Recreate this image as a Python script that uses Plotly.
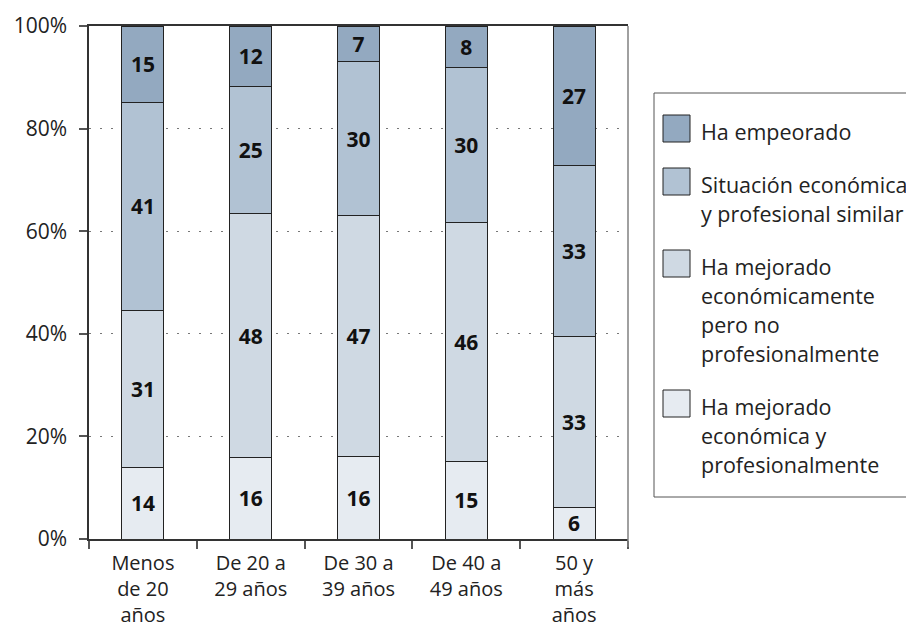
import plotly.graph_objects as go

# categories (x axis tick labels)
categorias = ["Menos<br>de 20<br>años", "De 20 a<br>29 años", "De 30 a<br>39 años",
              "De 40 a<br>49 años", "50 y<br>más<br>años"]

# series, bottom to top of each stack
serie_nombres = [
    "Ha mejorado<br>económica y<br>profesionalmente",
    "Ha mejorado<br>económicamente<br>pero no<br>profesionalmente",
    "Situación económica<br>y profesional similar",
    "Ha empeorado",
]
mejorado_ambos = [14, 16, 16, 15, 6]
mejorado_economico = [31, 48, 47, 46, 33]
similar = [41, 25, 30, 30, 33]
empeorado = [15, 12, 7, 8, 27]

valores = [mejorado_ambos, mejorado_economico, similar, empeorado]
colores = ["#e6ebf1", "#cfd9e3", "#b1c2d3", "#93a9c0"]

y_ticks = [0, 20, 40, 60, 80, 100]
y_labels = ["0%", "20%", "40%", "60%", "80%", "100%"]

FONT = "Open Sans"
TXT = "#222222"

fig = go.Figure()
for nombre, vals, col in zip(serie_nombres, valores, colores):
    fig.add_trace(go.Bar(
        x=categorias, y=vals, name=nombre,
        marker=dict(color=col, line=dict(color="#222222", width=1)),
        text=vals, texttemplate="<b>%{text}</b>",
        textposition="inside", insidetextanchor="middle", textangle=0,
        constraintext="none",
        textfont=dict(family=FONT, size=21, color="#111111"),
        hoverinfo="skip", showlegend=False,
    ))

# the page body has an 8px margin, so the figure is a bit smaller than the window
OFF = 8
W, H = 906, 619
ML, MR, MT, MB = 81, 286, 18, 88
pw, ph = W - ML - MR, H - MT - MB


def px(x):
    # screen pixel -> paper x
    return (x - OFF - ML) / pw


def py(y):
    # screen pixel -> paper y
    return (H - MB - (y - OFF)) / ph


shapes = []
annotations = []

# right border of the plot area (grey)
shapes.append(dict(type="line", xref="paper", yref="paper", x0=1, x1=1, y0=1, y1=py(547),
                   line=dict(color="#808080", width=1.5)))

# legend box
shapes.append(dict(type="rect", xref="paper", yref="paper",
                   x0=px(654), x1=px(913), y0=py(93), y1=py(497),
                   line=dict(color="#555555", width=1), fillcolor="rgba(0,0,0,0)"))

line_step = 29
item_gap = 53
y_line = 131
for nombre, col in reversed(list(zip(serie_nombres, colores))):
    lineas = nombre.split("<br>")
    sc = y_line - 2.5
    shapes.append(dict(type="rect", xref="paper", yref="paper",
                       x0=px(663), x1=px(690), y0=py(sc - 13.5), y1=py(sc + 13.5),
                       fillcolor=col, line=dict(color="#222222", width=1)))
    for i, t in enumerate(lineas):
        annotations.append(dict(xref="paper", yref="paper", x=px(699), y=py(y_line + i * line_step),
                                text=t, showarrow=False, xanchor="left", yanchor="middle",
                                font=dict(family=FONT, size=21.5, color=TXT)))
    y_line += (len(lineas) - 1) * line_step + item_gap

fig.update_layout(
    width=W, height=H,
    margin=dict(l=ML, r=MR, t=MT, b=MB, autoexpand=False),
    barmode="stack", barnorm="percent", bargap=0.61,
    plot_bgcolor="white", paper_bgcolor="white",
    font=dict(family=FONT, size=20, color=TXT),
    showlegend=False,
    shapes=shapes, annotations=annotations,
    xaxis=dict(
        type="category", tickson="boundaries", ticks="outside", ticklen=8,
        tickcolor="#555555", tickwidth=1.5, ticklabelstandoff=5,
        showline=True, linecolor="#333333", linewidth=1.5, mirror=True,
        showgrid=False, tickfont=dict(size=20, color=TXT), fixedrange=True,
        automargin=False,
    ),
    yaxis=dict(
        range=[0, 100], tickvals=y_ticks, ticktext=y_labels,
        ticks="outside", ticklen=8, tickcolor="#555555", tickwidth=1.5,
        ticklabelstandoff=8,
        showline=True, linecolor="#333333", linewidth=1.5,
        showgrid=True, gridcolor="#777777", gridwidth=1, griddash="2px,9px",
        zeroline=False, tickfont=dict(size=21, color=TXT), fixedrange=True,
        automargin=False,
    ),
)

fig.write_html("out.html")
